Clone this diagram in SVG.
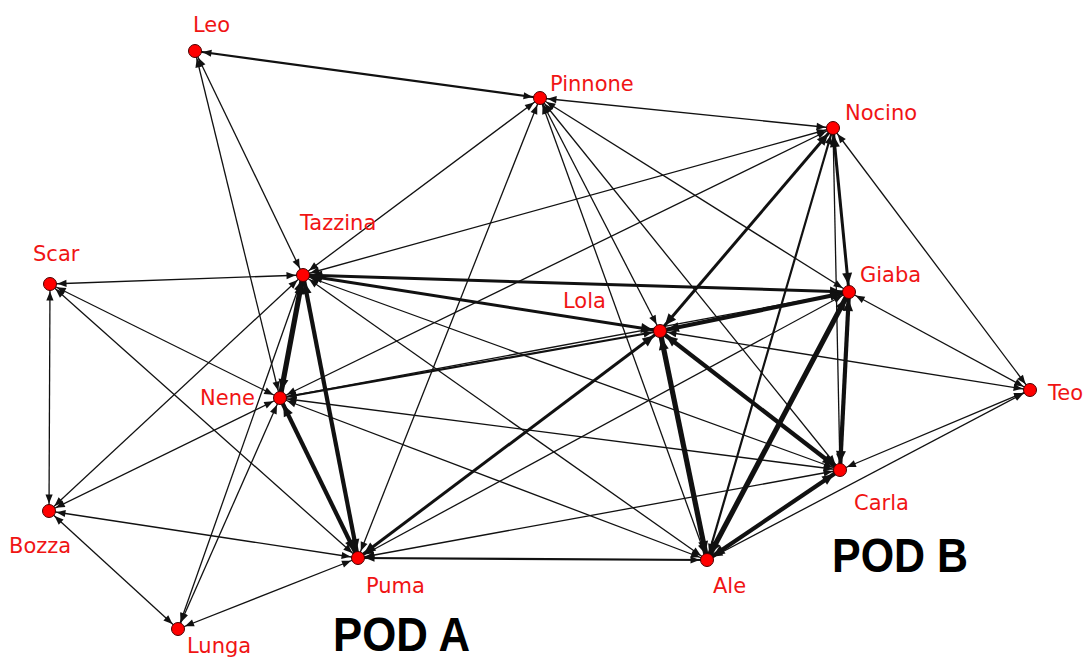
<svg xmlns="http://www.w3.org/2000/svg" width="1092" height="660" viewBox="0 0 1092 660">
<defs>
<marker id="a" markerUnits="userSpaceOnUse" viewBox="-18 -5 19 10" markerWidth="19" markerHeight="10" refX="0" refY="0" orient="auto-start-reverse"><path d="M-16.5,-3.6 L-7.5,0 L-16.5,3.6 Z" fill="#111"/></marker>
<marker id="b" markerUnits="userSpaceOnUse" viewBox="-21 -7 22 14" markerWidth="22" markerHeight="14" refX="0" refY="0" orient="auto-start-reverse"><path d="M-19,-5 L-7.5,0 L-19,5 Z" fill="#111"/></marker>
<style>
.e{stroke:#111;fill:none;marker-start:url(#a);marker-end:url(#a)}
.t1{stroke-width:1.3}
.t2{stroke-width:2.2}
.t3{stroke-width:3;marker-start:url(#b);marker-end:url(#b)}
.t4{stroke-width:4.2;marker-start:url(#b);marker-end:url(#b)}
.t5{stroke-width:5.2;marker-start:url(#b);marker-end:url(#b)}
.n{fill:#f00;stroke:#4a0000;stroke-width:1}
.l{font-family:"DejaVu Sans",Verdana,sans-serif;font-size:21px;fill:#f01414}
.pod{font-family:"Liberation Sans",Arial,sans-serif;font-weight:bold;font-size:48px;fill:#000}
</style>
</defs>
<rect width="1092" height="660" fill="#fff"/>
<g id="edges">
<line class="e t1" x1="195" y1="51" x2="303" y2="275"/>
<line class="e t1" x1="195" y1="51" x2="280" y2="398"/>
<line class="e t1" x1="540" y1="98" x2="833" y2="128"/>
<line class="e t1" x1="540" y1="98" x2="303" y2="275"/>
<line class="e t1" x1="540" y1="98" x2="358" y2="558"/>
<line class="e t1" x1="540" y1="98" x2="660" y2="331"/>
<line class="e t1" x1="540" y1="98" x2="707" y2="560"/>
<line class="e t1" x1="540" y1="98" x2="840" y2="470"/>
<line class="e t1" x1="540" y1="98" x2="849" y2="292"/>
<line class="e t1" x1="833" y1="128" x2="303" y2="275"/>
<line class="e t1" x1="833" y1="128" x2="280" y2="398"/>
<line class="e t1" x1="833" y1="128" x2="840" y2="470"/>
<line class="e t1" x1="833" y1="128" x2="1030" y2="390"/>
<line class="e t1" x1="303" y1="275" x2="50" y2="284"/>
<line class="e t1" x1="303" y1="275" x2="49" y2="511"/>
<line class="e t1" x1="303" y1="275" x2="178" y2="629"/>
<line class="e t1" x1="303" y1="275" x2="840" y2="470"/>
<line class="e t1" x1="303" y1="275" x2="707" y2="560"/>
<line class="e t1" x1="50" y1="284" x2="280" y2="398"/>
<line class="e t1" x1="50" y1="284" x2="358" y2="558"/>
<line class="e t1" x1="50" y1="284" x2="49" y2="511"/>
<line class="e t1" x1="280" y1="398" x2="49" y2="511"/>
<line class="e t1" x1="280" y1="398" x2="178" y2="629"/>
<line class="e t1" x1="280" y1="398" x2="849" y2="292"/>
<line class="e t1" x1="280" y1="398" x2="840" y2="470"/>
<line class="e t1" x1="280" y1="398" x2="707" y2="560"/>
<line class="e t1" x1="49" y1="511" x2="358" y2="558"/>
<line class="e t1" x1="49" y1="511" x2="178" y2="629"/>
<line class="e t1" x1="178" y1="629" x2="358" y2="558"/>
<line class="e t1" x1="358" y1="558" x2="840" y2="470"/>
<line class="e t1" x1="358" y1="558" x2="849" y2="292"/>
<line class="e t1" x1="660" y1="331" x2="1030" y2="390"/>
<line class="e t1" x1="849" y1="292" x2="1030" y2="390"/>
<line class="e t1" x1="840" y1="470" x2="1030" y2="390"/>
<line class="e t1" x1="707" y1="560" x2="1030" y2="390"/>
<line class="e t2" x1="280" y1="398" x2="660" y2="331"/>
<line class="e t2" x1="195" y1="51" x2="540" y2="98"/>
<line class="e t2" x1="833" y1="128" x2="707" y2="560"/>
<line class="e t2" x1="358" y1="558" x2="707" y2="560"/>
<line class="e t3" x1="358" y1="558" x2="660" y2="331"/>
<line class="e t3" x1="303" y1="275" x2="849" y2="292"/>
<line class="e t3" x1="303" y1="275" x2="660" y2="331"/>
<line class="e t3" x1="833" y1="128" x2="660" y2="331"/>
<line class="e t3" x1="833" y1="128" x2="849" y2="292"/>
<line class="e t5" x1="303" y1="275" x2="280" y2="398"/>
<line class="e t4" x1="303" y1="275" x2="358" y2="558"/>
<line class="e t4" x1="280" y1="398" x2="358" y2="558"/>
<line class="e t4" x1="660" y1="331" x2="849" y2="292"/>
<line class="e t5" x1="660" y1="331" x2="707" y2="560"/>
<line class="e t5" x1="849" y1="292" x2="707" y2="560"/>
<line class="e t4" x1="849" y1="292" x2="840" y2="470"/>
<line class="e t4" x1="660" y1="331" x2="840" y2="470"/>
<line class="e t4" x1="840" y1="470" x2="707" y2="560"/>
</g>
<g id="node-Leo"><circle class="n" cx="195" cy="51" r="6.5"/><text class="l" x="193" y="32">Leo</text></g>
<g id="node-Pinnone"><circle class="n" cx="540" cy="98" r="6.5"/><text class="l" x="550" y="91">Pinnone</text></g>
<g id="node-Nocino"><circle class="n" cx="833" cy="128" r="6.5"/><text class="l" x="845" y="120">Nocino</text></g>
<g id="node-Tazzina"><circle class="n" cx="303" cy="275" r="6.5"/><text class="l" x="300" y="230">Tazzina</text></g>
<g id="node-Scar"><circle class="n" cx="50" cy="284" r="6.5"/><text class="l" x="33" y="261">Scar</text></g>
<g id="node-Giaba"><circle class="n" cx="849" cy="292" r="6.5"/><text class="l" x="860" y="282">Giaba</text></g>
<g id="node-Lola"><circle class="n" cx="660" cy="331" r="6.5"/><text class="l" x="563" y="308">Lola</text></g>
<g id="node-Nene"><circle class="n" cx="280" cy="398" r="6.5"/><text class="l" x="200" y="405">Nene</text></g>
<g id="node-Teo"><circle class="n" cx="1030" cy="390" r="6.5"/><text class="l" x="1048" y="400">Teo</text></g>
<g id="node-Carla"><circle class="n" cx="840" cy="470" r="6.5"/><text class="l" x="854" y="510">Carla</text></g>
<g id="node-Bozza"><circle class="n" cx="49" cy="511" r="6.5"/><text class="l" x="9" y="553">Bozza</text></g>
<g id="node-Puma"><circle class="n" cx="358" cy="558" r="6.5"/><text class="l" x="366" y="593">Puma</text></g>
<g id="node-Ale"><circle class="n" cx="707" cy="560" r="6.5"/><text class="l" x="713" y="593">Ale</text></g>
<g id="node-Lunga"><circle class="n" cx="178" cy="629" r="6.5"/><text class="l" x="187" y="653">Lunga</text></g>
<g id="pods">
<text class="pod" x="333" y="651" textLength="137" lengthAdjust="spacingAndGlyphs">POD A</text>
<text class="pod" x="832" y="572" textLength="136" lengthAdjust="spacingAndGlyphs">POD B</text>
</g>
</svg>
